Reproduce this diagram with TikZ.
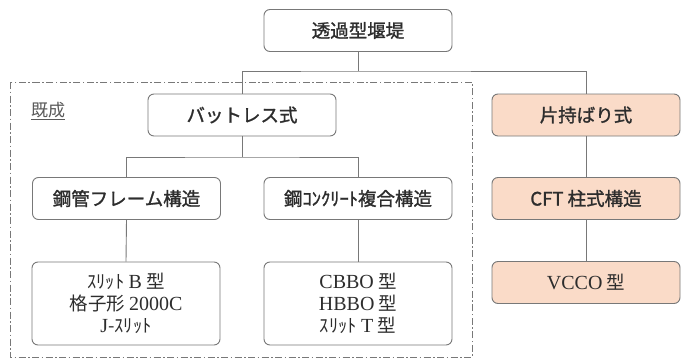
\documentclass[tikz,border=0pt]{standalone}
\usepackage{fontspec}
\setmainfont{Noto Sans CJK JP}[BoldFont={Noto Sans CJK JP}, BoldFeatures={FakeBold=1.3}]
\newfontfamily\ser{Liberation Serif}
\definecolor{peach}{RGB}{250,219,200}
\definecolor{edgegray}{RGB}{120,120,120}
\definecolor{txt}{RGB}{45,45,45}
\begin{document}
\begin{tikzpicture}[x=1pt,y=-1pt,
  box/.style={draw=edgegray, line width=0.9pt, rounded corners=6pt,
    minimum width=188pt, minimum height=42pt, inner sep=0pt,
    font=\fontsize{18.5}{22}\selectfont\bfseries, text=txt, align=center},
  tall/.style={box, minimum height=83pt, font=\fontsize{18.5}{22}\selectfont\mdseries},
  warm/.style={box, fill=peach},
  link/.style={draw=edgegray, line width=0.9pt},
  frame/.style={draw=edgegray, line width=0.8pt,
    dash pattern=on 7pt off 2.5pt on 1.5pt off 2.5pt}]
\useasboundingbox (0,0) rectangle (681,359);
\fill[white] (0,0) rectangle (681,359);

% dashed frame
\draw[frame] (10,82) rectangle (472,357);
\node[text=gray!70!black, font=\fontsize{17}{20}\selectfont, inner sep=1pt] (kisei) at (48,111) {\underline{既成}};

% nodes
\node[box] (top) at (358,30.5) {透過型堰堤};
\node[box] (batt) at (242,115) {バットレス式};
\node[warm] (kata) at (586,115) {片持ばり式};
\node[box] (kokan) at (126.5,198.5) {鋼管フレーム構造};
\node[box] (kocon) at (358,198.5) {鋼ｺﾝｸﾘｰﾄ複合構造};
\node[warm] (cft) at (586,198.5) {CFT 柱式構造};
\node[tall] (bl) at (126,303.5) {ｽﾘｯﾄ {\ser\fontsize{20}{22}\selectfont B} 型\\格子形 {\ser\fontsize{20}{22}\selectfont 2000C}\\{\ser\fontsize{20}{22}\selectfont J}-ｽﾘｯﾄ};
\node[tall] (bm) at (358,303.5) {{\ser\fontsize{20}{22}\selectfont CBBO} 型\\{\ser\fontsize{20}{22}\selectfont HBBO} 型\\ｽﾘｯﾄ {\ser\fontsize{20}{22}\selectfont T} 型};
\node[warm, font=\fontsize{18.5}{22}\selectfont\mdseries] (vcco) at (586,282.5) {{\ser\fontsize{20}{22}\selectfont VCCO} 型};

% junctions
\coordinate (j1) at (358,71);
\coordinate (j2) at (242,157);

% connectors
\draw[link] (top.south) -- (j1);
\draw[link] (batt.north) |- (j1) -| (kata.north);
\draw[link] (batt.south) -- (j2);
\draw[link] (kokan.north) |- (j2) -| (kocon.north);
\draw[link] (kata.south) -- (cft.north);
\draw[link] (cft.south) -- (vcco.north);
\draw[link] (kokan.south) -- (bl.north);
\draw[link] (kocon.south) -- (bm.north);
\end{tikzpicture}
\end{document}
